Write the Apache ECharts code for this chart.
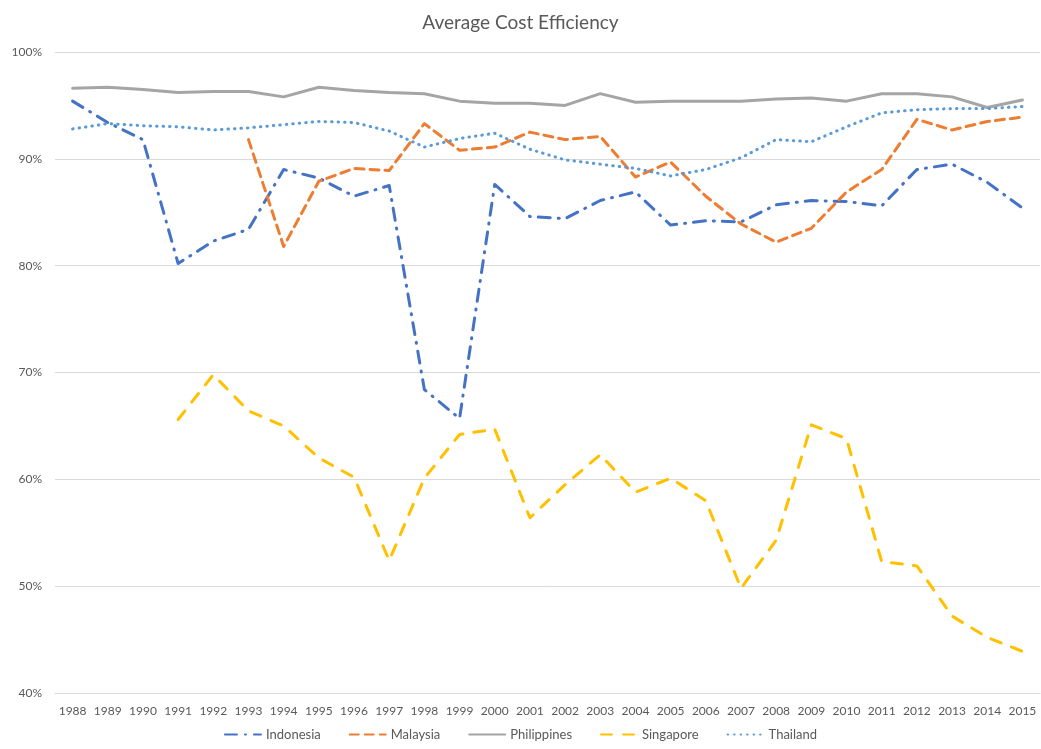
<!DOCTYPE html>
<html>
<head>
<meta charset="utf-8">
<script src="https://cdn.jsdelivr.net/npm/echarts@6/dist/echarts.min.js"></script>
<style>
html,body{margin:0;padding:0;background:#fff;}
#chart{width:1041px;height:749px;}
</style>
</head>
<body>
<div id="chart"></div>
<script>
const years = ['1988','1989','1990','1991','1992','1993','1994','1995','1996','1997','1998','1999','2000','2001','2002','2003','2004','2005','2006','2007','2008','2009','2010','2011','2012','2013','2014','2015'];
const indonesia = [95.4,93.4,91.8,80.2,82.3,83.4,89.0,88.2,86.5,87.5,68.4,65.7,87.6,84.6,84.4,86.1,86.9,83.8,84.2,84.1,85.7,86.1,86.0,85.6,89.0,89.5,87.8,85.4];
const malaysia = [null,null,null,null,null,91.8,81.8,87.9,89.1,88.9,93.3,90.8,91.1,92.5,91.8,92.1,88.3,89.7,86.5,83.9,82.2,83.5,86.9,89.0,93.7,92.7,93.5,93.9];
const philippines = [96.6,96.7,96.5,96.2,96.3,96.3,95.8,96.7,96.4,96.2,96.1,95.4,95.2,95.2,95.0,96.1,95.3,95.4,95.4,95.4,95.6,95.7,95.4,96.1,96.1,95.8,94.8,95.5];
const singapore = [null,null,null,65.6,69.8,66.4,65.0,62.0,60.2,52.4,60.1,64.2,64.7,56.4,59.5,62.3,58.8,60.1,58.0,49.8,54.3,65.1,63.8,52.3,51.9,47.2,45.2,43.9];
const thailand = [92.8,93.3,93.1,93.0,92.7,92.9,93.2,93.5,93.4,92.6,91.1,91.9,92.4,90.9,89.9,89.5,89.1,88.4,89.0,90.1,91.8,91.6,93.0,94.3,94.6,94.7,94.7,94.9];
const yTicks = {min:40, max:100, interval:10};

const chart = echarts.init(document.getElementById('chart'));
const font = 'Lato, "Open Sans", sans-serif';
function mk(name, data, color, type){
  return {
    name, type:'line', data, symbol:'none', showSymbol:false, connectNulls:false,
    lineStyle:{color, width:3, type, cap:'round', join:'round'},
    itemStyle:{color}, emphasis:{disabled:true}
  };
}
chart.setOption({
  animation:false,
  title:{text:'Average Cost Efficiency', left:'center', top:8,
    textStyle:{fontFamily:font, fontWeight:'normal', fontSize:19, color:'#595959'}},
  legend:{bottom:3, left:'center', itemWidth:36, itemHeight:10, itemGap:28,
    itemStyle:{opacity:0},
    textStyle:{fontFamily:font, fontSize:13, color:'#595959'},
    data:['Indonesia','Malaysia','Philippines','Singapore','Thailand']},
  grid:{left:55, right:1, top:52, bottom:56, containLabel:false},
  xAxis:{type:'category', data:years, boundaryGap:true,
    axisLine:{lineStyle:{color:'#d9d9d9'}}, axisTick:{show:false},
    axisLabel:{fontFamily:font, fontSize:12, color:'#595959', margin:12, interval:0}},
  yAxis:{type:'value', min:yTicks.min, max:yTicks.max, interval:yTicks.interval,
    axisLine:{show:false}, axisTick:{show:false},
    axisLabel:{fontFamily:font, fontSize:12, color:'#595959', margin:13, formatter:'{value}%'},
    splitLine:{lineStyle:{color:'#d9d9d9', width:1}}},
  series:[
    mk('Indonesia', indonesia, '#4472C4', [12,8,1,8]),
    mk('Malaysia', malaysia, '#ED7D31', [9,6]),
    mk('Philippines', philippines, '#A5A5A5', 'solid'),
    mk('Singapore', singapore, '#FFC000', [11,11]),
    mk('Thailand', thailand, '#5B9BD5', [0.5,6])
  ]
});
</script>
</body>
</html>
